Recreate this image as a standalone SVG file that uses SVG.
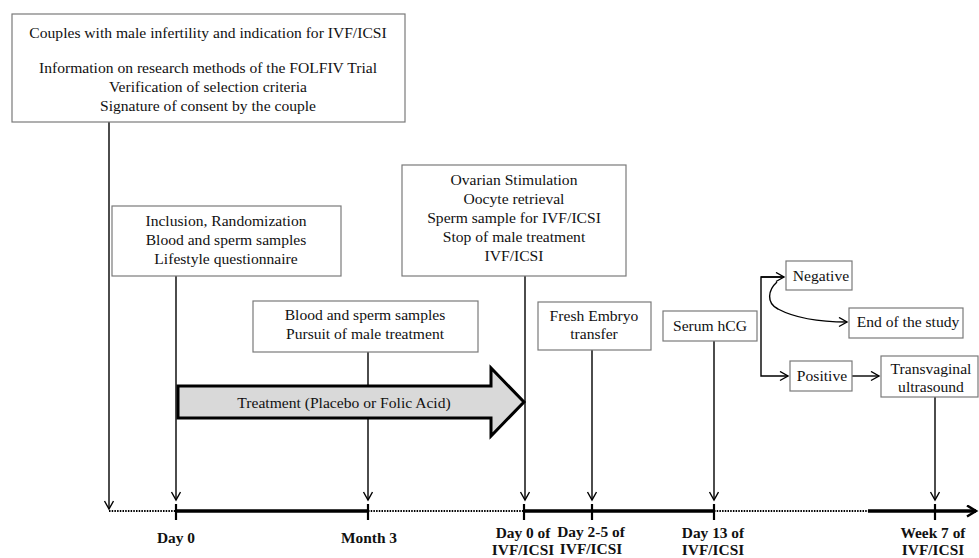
<svg xmlns="http://www.w3.org/2000/svg" width="979" height="558" viewBox="0 0 979 558">
<style>
.box{fill:#fff;stroke:#7a7a7a;stroke-width:1.2}
.t{font-family:"Liberation Serif","DejaVu Serif","Times New Roman",serif;font-size:15.6px;fill:#111;text-anchor:middle}
.b{font-family:"Liberation Serif","DejaVu Serif","Times New Roman",serif;font-size:15.4px;font-weight:bold;fill:#111;text-anchor:middle}
.ln{stroke:#000;stroke-width:1.4;fill:none}
.dot{stroke:#000;stroke-width:2;stroke-dasharray:1.5,1.2;fill:none}
.thick{stroke:#000;stroke-width:3.5;fill:none}
.tick{stroke:#000;stroke-width:2.2}
</style>
<defs>
<marker id="ch" markerWidth="12" markerHeight="12" refX="9" refY="5" orient="auto" markerUnits="userSpaceOnUse">
<path d="M1,0.5 L9,5 L1,9.5" fill="none" stroke="#000" stroke-width="1.4"/>
</marker>
<marker id="chb" markerWidth="14" markerHeight="14" refX="10" refY="6" orient="auto" markerUnits="userSpaceOnUse">
<path d="M1,0.5 L10,6 L1,11.5" fill="none" stroke="#000" stroke-width="2.5"/>
</marker>
</defs>

<g id="connectors">
<line class="ln" x1="109" y1="122" x2="109" y2="509" marker-end="url(#ch)"/>
<line class="ln" x1="176" y1="276" x2="176" y2="500" marker-end="url(#ch)"/>
<line class="ln" x1="368" y1="352" x2="368" y2="500" marker-end="url(#ch)"/>
<line class="ln" x1="525" y1="276" x2="525" y2="500" marker-end="url(#ch)"/>
<line class="ln" x1="592" y1="350" x2="592" y2="500" marker-end="url(#ch)"/>
<line class="ln" x1="714" y1="341" x2="714" y2="500" marker-end="url(#ch)"/>
<line class="ln" x1="935" y1="397" x2="935" y2="500" marker-end="url(#ch)"/>
<path class="ln" d="M784,277 L761,277 L761,376 L788,376" marker-end="url(#ch)"/>
<line class="ln" x1="761" y1="277" x2="784" y2="277" marker-end="url(#ch)"/>
<line class="ln" x1="852" y1="376" x2="879" y2="376" marker-end="url(#ch)"/>
<path class="ln" d="M777,282 C768,290 766,303 778,309 C795,318 820,322 847,322" marker-end="url(#ch)"/>
</g>

<g id="timeline">
<line class="dot" x1="109" y1="511" x2="176" y2="511"/>
<line class="thick" x1="176" y1="511" x2="368" y2="511"/>
<line class="dot" x1="368" y1="511" x2="524" y2="511"/>
<line class="thick" x1="524" y1="511" x2="714" y2="511"/>
<line class="dot" x1="714" y1="511" x2="868" y2="511"/>
<line class="thick" x1="868" y1="511" x2="976" y2="511" marker-end="url(#chb)"/>
<line class="tick" x1="176" y1="504" x2="176" y2="520"/>
<line class="tick" x1="368" y1="504" x2="368" y2="520"/>
<line class="tick" x1="524" y1="504" x2="524" y2="520"/>
<line class="tick" x1="592" y1="504" x2="592" y2="520"/>
<line class="tick" x1="714" y1="504" x2="714" y2="520"/>
<line class="tick" x1="935" y1="504" x2="935" y2="520"/>
<text class="b" x="176" y="543">Day 0</text>
<text class="b" x="369" y="543">Month 3</text>
<text class="b" x="523" y="538">Day 0 of</text>
<text class="b" x="523" y="555">IVF/ICSI</text>
<text class="b" x="591" y="537">Day 2-5 of</text>
<text class="b" x="591" y="554">IVF/ICSI</text>
<text class="b" x="713" y="538">Day 13 of</text>
<text class="b" x="713" y="555">IVF/ICSI</text>
<text class="b" x="933" y="538">Week 7 of</text>
<text class="b" x="933" y="555">IVF/ICSI</text>
</g>

<g id="treatment">
<path d="M178,386 L491,386 L491,368 L524,402 L491,436 L491,418 L178,418 Z" fill="#d9d9d9" stroke="#000" stroke-width="3" stroke-linejoin="miter"/>
<text class="t" x="344" y="408">Treatment (Placebo or Folic Acid)</text>
</g>

<g id="n-couples">
<rect class="box" x="12" y="14" width="393" height="108"/>
<text class="t" x="208" y="38">Couples with male infertility and indication for IVF/ICSI</text>
<text class="t" x="208" y="73">Information on research methods of the FOLFIV Trial</text>
<text class="t" x="208" y="92">Verification of selection criteria</text>
<text class="t" x="208" y="111">Signature of consent by the couple</text>
</g>

<g id="n-inclusion">
<rect class="box" x="112" y="206" width="229" height="70"/>
<text class="t" x="226" y="226">Inclusion, Randomization</text>
<text class="t" x="226" y="245">Blood and sperm samples</text>
<text class="t" x="226" y="264">Lifestyle questionnaire</text>
</g>

<g id="n-ovarian">
<rect class="box" x="402" y="165" width="224" height="111"/>
<text class="t" x="514" y="185">Ovarian Stimulation</text>
<text class="t" x="514" y="204">Oocyte retrieval</text>
<text class="t" x="514" y="223">Sperm sample for IVF/ICSI</text>
<text class="t" x="514" y="242">Stop of male treatment</text>
<text class="t" x="514" y="261">IVF/ICSI</text>
</g>

<g id="n-blood">
<rect class="box" x="253" y="301" width="225" height="51"/>
<text class="t" x="365" y="320">Blood and sperm samples</text>
<text class="t" x="365" y="339">Pursuit of male treatment</text>
</g>

<g id="n-fresh">
<rect class="box" x="538" y="302" width="113" height="48"/>
<text class="t" x="594" y="321">Fresh Embryo</text>
<text class="t" x="594" y="339">transfer</text>
</g>

<g id="n-serum">
<rect class="box" x="663" y="311" width="94" height="30"/>
<text class="t" x="710" y="331">Serum hCG</text>
</g>

<g id="n-negative">
<rect class="box" x="786" y="261" width="66" height="29"/>
<text class="t" x="821" y="281">Negative</text>
</g>

<g id="n-end">
<rect class="box" x="849" y="308" width="114" height="30"/>
<text class="t" x="908" y="327">End of the study</text>
</g>

<g id="n-positive">
<rect class="box" x="790" y="361" width="62" height="30"/>
<text class="t" x="822" y="381">Positive</text>
</g>

<g id="n-transvaginal">
<rect class="box" x="881" y="356" width="97" height="41"/>
<text class="t" x="931" y="374">Transvaginal</text>
<text class="t" x="931" y="392">ultrasound</text>
</g>
</svg>
